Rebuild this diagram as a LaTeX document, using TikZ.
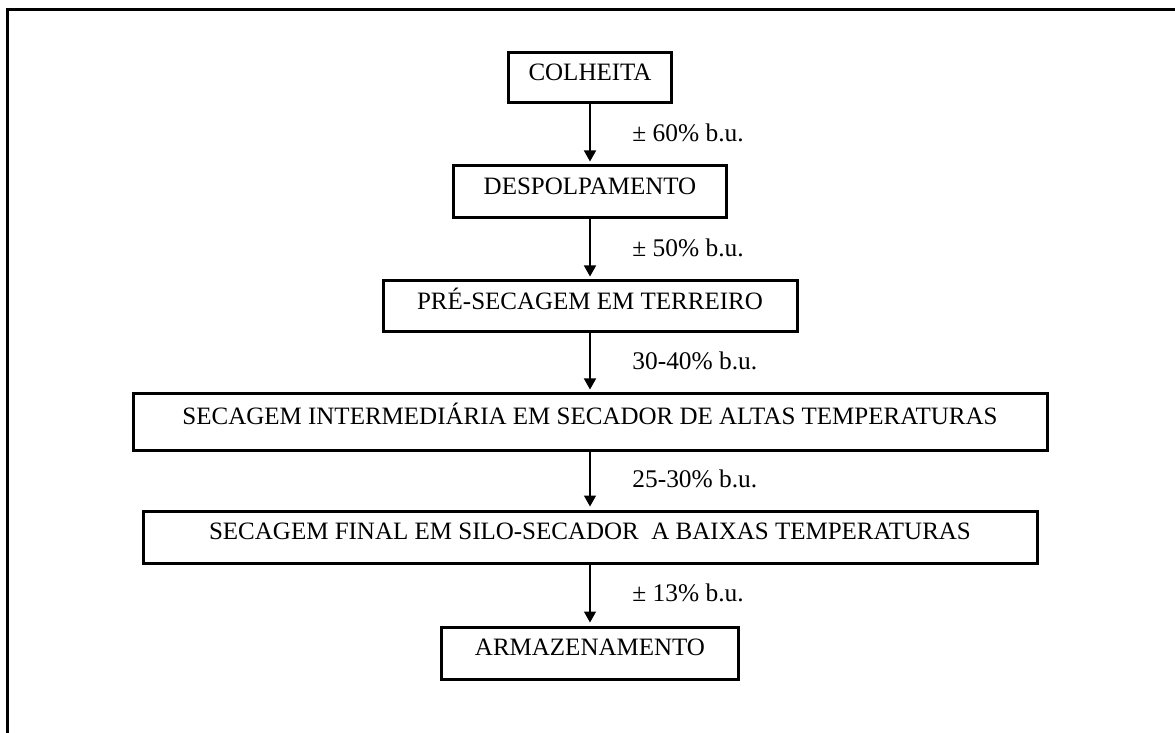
\documentclass[tikz,border=0pt]{standalone}
\usepackage{fontspec}
\setmainfont{Liberation Serif}
\usetikzlibrary{arrows.meta}
\newcommand{\etapa}[5]{%
  \node[caixa,minimum width=#3,minimum height=#4] (#1) at (590,#2) {#5};}
\newcommand{\seta}[3]{%
  \draw[fluxo] (#1.south) -- node[umid] {#3} (#2.north);}

\begin{document}
\begin{tikzpicture}[x=0.5pt,y=-0.5pt,
    caixa/.style={draw,line width=1.5pt,inner sep=0pt,
      text height=8.3pt,text depth=5.5pt,font=\fontsize{12.5}{14}\selectfont},
    fluxo/.style={line width=0.75pt,shorten >=1.5pt,
      -{Triangle[width=6pt,length=5.5pt]}},
    umid/.style={anchor=west,xshift=17.5pt,yshift=1pt,
      font=\fontsize{12.7}{14}\selectfont}]
  \useasboundingbox (0,0) rectangle (1175,733);
  \draw[line width=1.5pt] (1180,9.5) -- (7.5,9.5) -- (7.5,740);
  \etapa{colheita}{78}{81.5pt}{25pt}{COLHEITA}
  \etapa{despolpa}{192}{136.5pt}{26pt}{DESPOLPAMENTO}
  \etapa{presec}{306.5}{207pt}{25.5pt}{PRÉ-SECAGEM EM TERREIRO}
  \etapa{intermed}{422}{457pt}{28pt}{SECAGEM INTERMEDIÁRIA EM SECADOR DE ALTAS TEMPERATURAS}
  \etapa{final}{537}{447pt}{26pt}{SECAGEM FINAL EM SILO-SECADOR~ A BAIXAS TEMPERATURAS}
  \etapa{armazena}{653}{148.5pt}{26pt}{ARMAZENAMENTO}
  \seta{colheita}{despolpa}{± 60\% b.u.}
  \seta{despolpa}{presec}{± 50\% b.u.}
  \seta{presec}{intermed}{30-40\% b.u.}
  \seta{intermed}{final}{25-30\% b.u.}
  \seta{final}{armazena}{± 13\% b.u.}
\end{tikzpicture}
\end{document}
